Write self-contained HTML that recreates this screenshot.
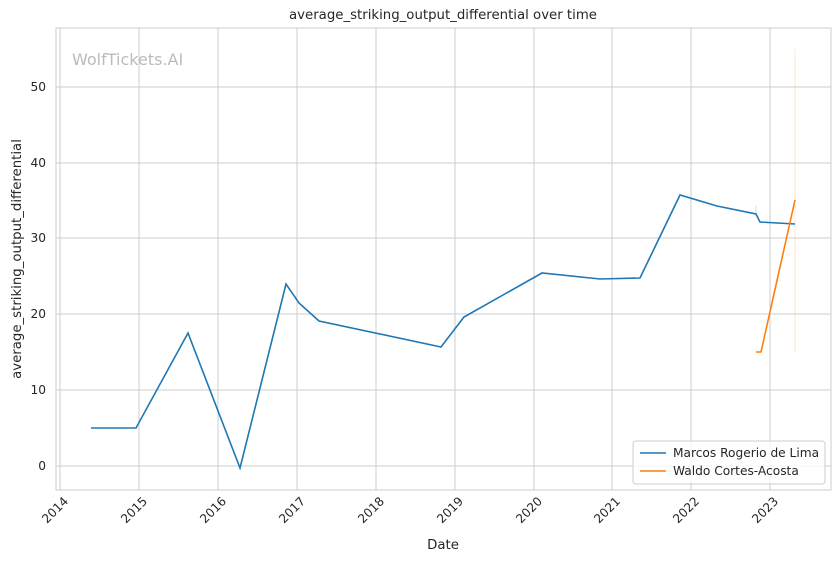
<!DOCTYPE html>
<html><head><meta charset="utf-8"><style>body{margin:0;background:#fff}svg{display:block;font-family:"DejaVu Sans","Liberation Sans",sans-serif}</style></head><body>
<svg width="840" height="561" viewBox="0 0 840 561" xmlns="http://www.w3.org/2000/svg">
<rect width="840" height="561" fill="#fff"/>
<g stroke="#cccccc" stroke-width="1">
<line x1="60" y1="28" x2="60" y2="490"/><line x1="139" y1="28" x2="139" y2="490"/><line x1="218" y1="28" x2="218" y2="490"/><line x1="297" y1="28" x2="297" y2="490"/><line x1="376" y1="28" x2="376" y2="490"/><line x1="455" y1="28" x2="455" y2="490"/><line x1="534" y1="28" x2="534" y2="490"/><line x1="612" y1="28" x2="612" y2="490"/><line x1="691" y1="28" x2="691" y2="490"/><line x1="770" y1="28" x2="770" y2="490"/>
<line x1="56" y1="466" x2="831" y2="466"/><line x1="56" y1="390" x2="831" y2="390"/><line x1="56" y1="314" x2="831" y2="314"/><line x1="56" y1="238" x2="831" y2="238"/><line x1="56" y1="163" x2="831" y2="163"/><line x1="56" y1="87" x2="831" y2="87"/>
</g>
<rect x="56" y="28" width="775" height="462" fill="none" stroke="#cccccc"/>
<text x="72" y="65" font-size="16" fill="#bbbbbb">WolfTickets.AI</text>
<line x1="795" y1="49" x2="795" y2="352" stroke="#ffbb78" stroke-opacity="0.35" stroke-width="1"/>
<line x1="756" y1="206" x2="756" y2="214" stroke="#aec7e8" stroke-opacity="0.6" stroke-width="1"/>
<polyline fill="none" stroke="#1f77b4" stroke-width="1.6" points="91,428 136,428 188,333 240,468 286,284 299,303 319,321 441,347 464,317 542,273 600,279 640,278 680,195 717,206 756,214 760,222 795,224"/>
<polyline fill="none" stroke="#ff7f0e" stroke-width="1.6" points="756,352 761,352 795,200"/>
<g font-size="12.2" fill="#262626" text-anchor="end">
<text x="46" y="470">0</text><text x="46" y="394">10</text><text x="46" y="318">20</text><text x="46" y="242">30</text><text x="46" y="167">40</text><text x="46" y="91">50</text>
</g>
<g font-size="12.2" fill="#262626" text-anchor="end">
<text transform="translate(69,502) rotate(-45)">2014</text><text transform="translate(148,502) rotate(-45)">2015</text><text transform="translate(227,502) rotate(-45)">2016</text><text transform="translate(306,502) rotate(-45)">2017</text><text transform="translate(385,502) rotate(-45)">2018</text><text transform="translate(464,502) rotate(-45)">2019</text><text transform="translate(543,502) rotate(-45)">2020</text><text transform="translate(621,502) rotate(-45)">2021</text><text transform="translate(700,502) rotate(-45)">2022</text><text transform="translate(779,502) rotate(-45)">2023</text>
</g>
<text x="443" y="549" font-size="13.3" fill="#262626" text-anchor="middle">Date</text>
<text transform="translate(21,259) rotate(-90)" font-size="13.3" fill="#262626" text-anchor="middle">average_striking_output_differential</text>
<text x="443" y="19" font-size="13.3" fill="#262626" text-anchor="middle">average_striking_output_differential over time</text>
<rect x="633" y="441" width="192" height="43" rx="3" fill="#fff" fill-opacity="0.8" stroke="#cccccc"/>
<line x1="640" y1="453" x2="666" y2="453" stroke="#1f77b4" stroke-width="1.6"/>
<line x1="640" y1="471" x2="666" y2="471" stroke="#ff7f0e" stroke-width="1.6"/>
<text x="673" y="457" font-size="12.2" fill="#262626">Marcos Rogerio de Lima</text>
<text x="673" y="475" font-size="12.2" fill="#262626">Waldo Cortes-Acosta</text>
</svg>
</body></html>
